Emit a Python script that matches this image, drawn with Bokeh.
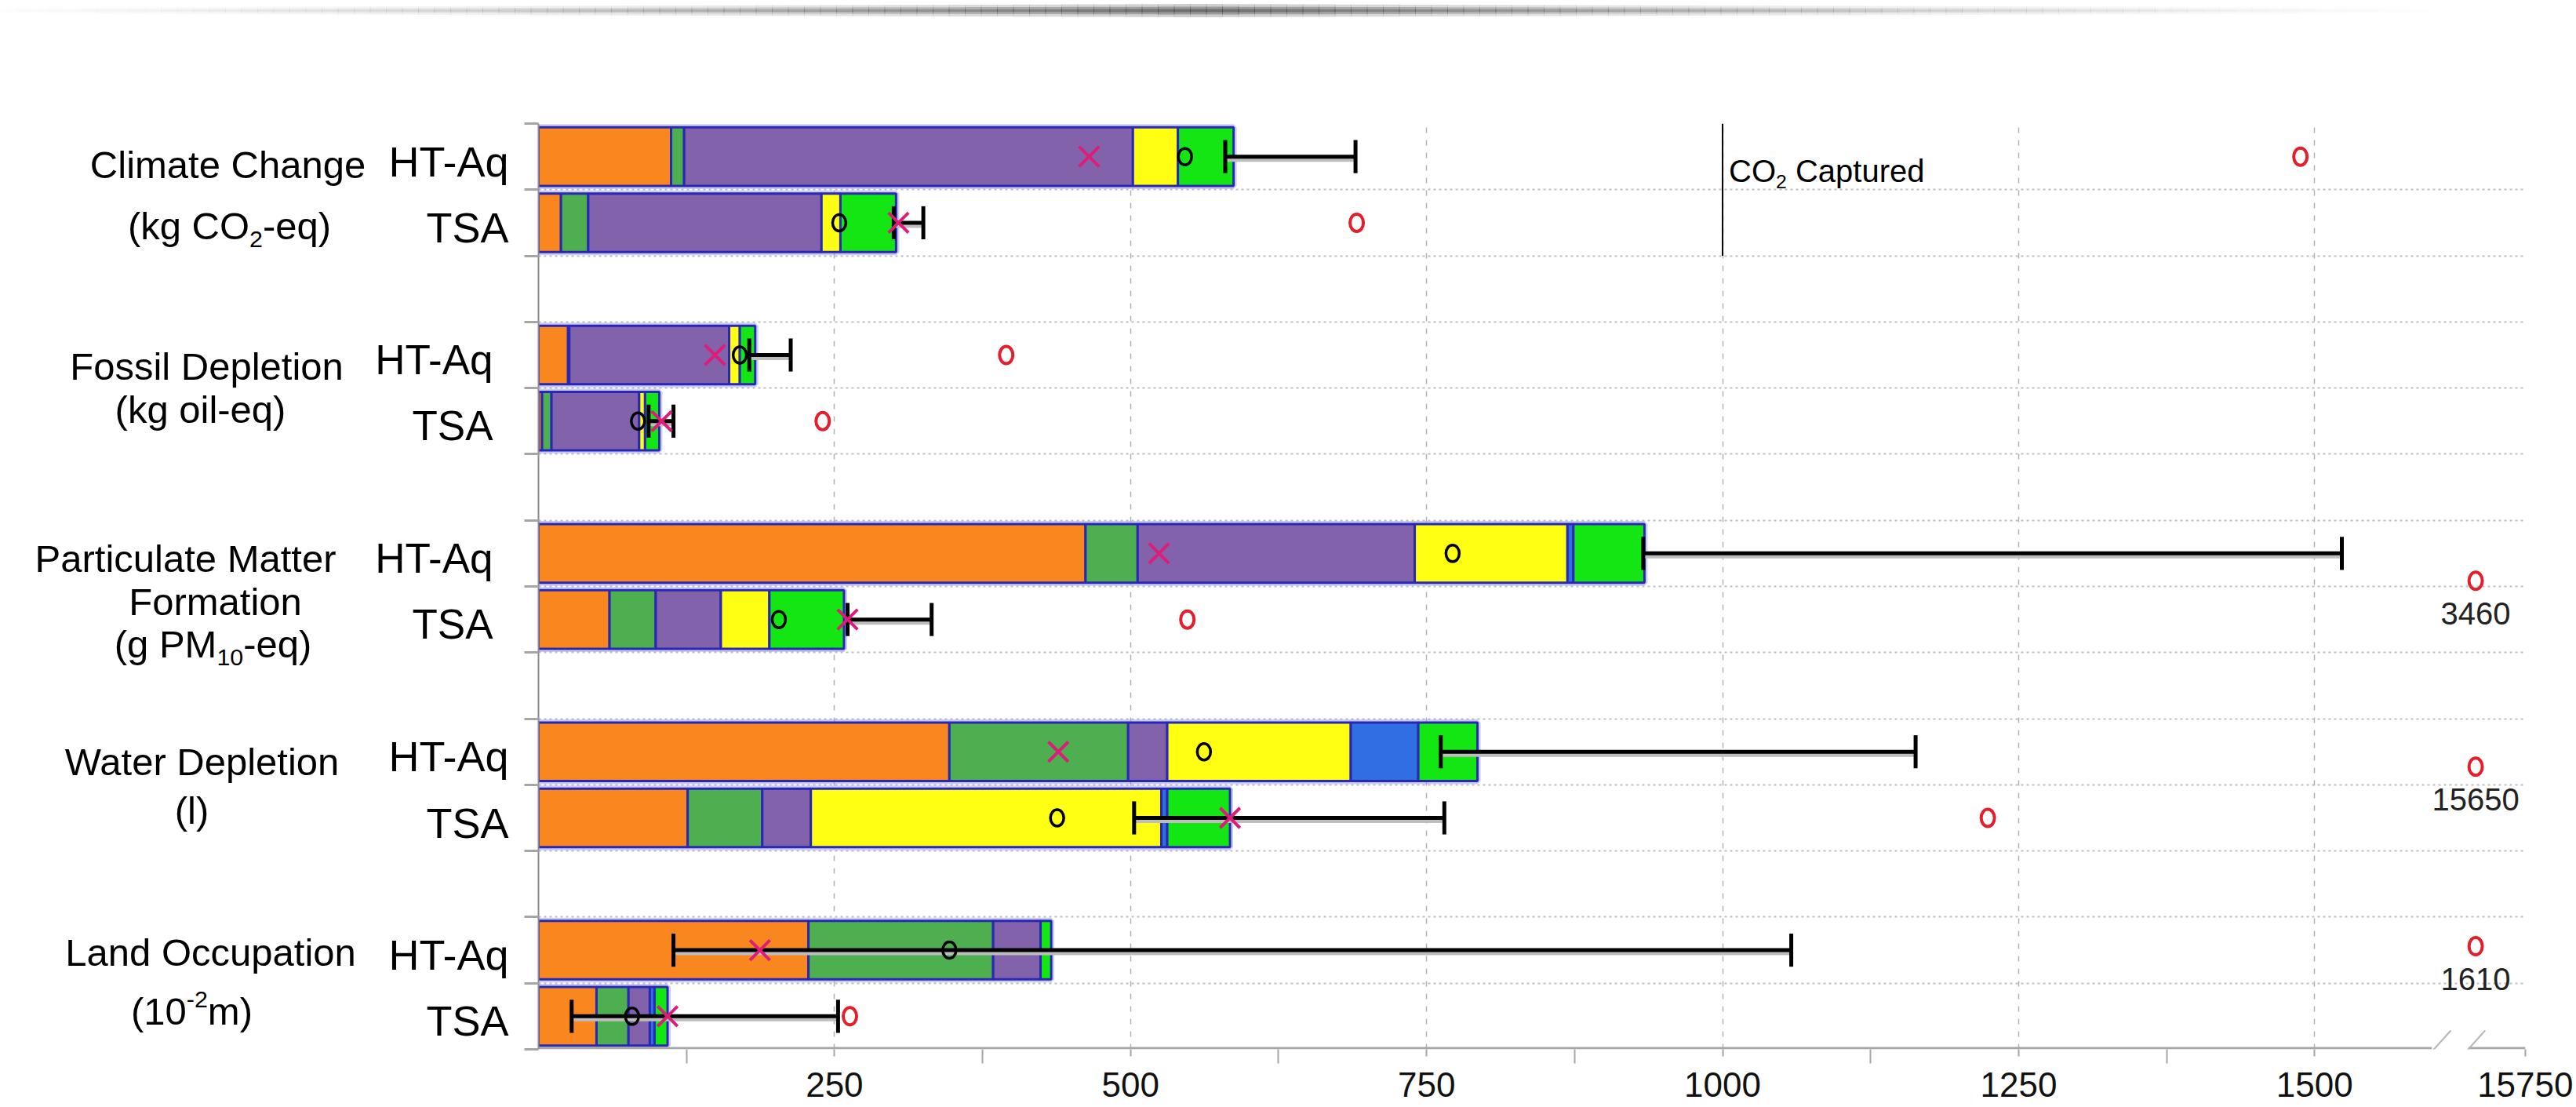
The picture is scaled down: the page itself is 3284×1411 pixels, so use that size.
from bokeh.plotting import figure
from bokeh.models import Range1d, FixedTicker, Label, ColumnDataSource
from bokeh.layouts import column, row
from bokeh.core.properties import value
from bokeh.embed import file_html
from bokeh.resources import INLINE

# ---------------- data ----------------
categories = ["Climate Change", "Fossil Depletion", "Particulate Matter Formation",
              "Water Depletion", "Land Occupation"]
systems = ["HT-Aq", "TSA"]

# stacked contributions per bar, bar order: (cat0 HT-Aq, cat0 TSA, cat1 HT-Aq, ...)
seg_orange = [112, 19, 25, 3, 462, 60, 347, 126, 228, 49]
seg_green = [11, 23, 1, 8, 44, 39, 151, 63, 156, 27]
seg_purple = [379, 197, 135, 74, 234, 55, 33, 41, 40, 18]
seg_yellow = [38, 16, 9, 5, 129, 41, 155, 296, 0, 0]
seg_blue = [0, 0, 0, 0, 5, 0, 57, 5, 0, 4]
seg_lime = [47, 47, 13, 12, 60, 63, 50, 53, 9, 11]

mean_x = [465, 304, 149, 104, 524, 261, 439, 584, 187, 109]
median_o = [546, 254, 170, 84, 772, 203, 562, 438, 347, 79]
err_low = [580, 300, 178, 93, 933, 261, 762, 503, 114, 28]
err_high = [690, 325, 213, 114, 1523, 332, 1163, 765, 1058, 253]
outlier = [1488, 691, 395, 240, 3460, 548, 15650, 1224, 1610, 263]

x_tick_values = [250, 500, 750, 1000, 1250, 1500]
x_tick_labels = ["250", "500", "750", "1000", "1250", "1500"]
axis_end_label = "15750"
co2_captured_value = 1000

cat_lines = [
    [[("Climate Change", "n")], [("(kg CO", "n"), ("2", "sub"), ("-eq)", "n")]],
    [[("Fossil Depletion", "n")], [("(kg oil-eq)", "n")]],
    [[("Particulate Matter", "n")], [("Formation", "n")], [("(g PM", "n"), ("10", "sub"), ("-eq)", "n")]],
    [[("Water Depletion", "n")], [("(l)", "n")]],
    [[("Land Occupation", "n")], [("(10", "n"), ("-2", "sup"), ("m)", "n")]],
]

# ---------------- layout / style ----------------
TOTAL_W = 3280
STRIP_H = 38
MAIN_H = 1370
LW = 656                      # width of the left label panel
B_LEFT_MAIN, B_TOP, B_BOTTOM = 30, 119, 71
AXIS_END = 1678               # display position of the broken-axis end
AXIS_BREAK = 1600             # values above this are drawn past the break
OFFSCALE_POS = 1636
N_SLOTS = 14
MAIN_W = TOTAL_W - LW
FRAME_W = 2533
B_RIGHT = MAIN_W - B_LEFT_MAIN - FRAME_W
PXY = (MAIN_H - B_TOP - B_BOTTOM) / N_SLOTS
BAR_H = 0.885
CAP = 0.25
FONT = "Liberation Sans"
TEXT_DY = 6                   # px, svg middle-baseline correction (down)

colors = ["#FA8620", "#4DAF4F", "#8262AA", "#FFFF14", "#2F6FE3", "#14E614"]
OUTLINE = "#2828B4"
PINK = "#DC1E78"
RED = "#E31E2D"
GRID = "#B4B4B4"
AXIS_GRAY = "#A6A6A6"

# per-line label layout: (page x centre, px offset from group centre)
cat_line_layout = [[(290, -38), (292, 40)], [(263, -34), (255, 21)],
                   [(236, -42), (274, 13), (271, 67)], [(258, -35), (244, 27)],
                   [(268, -45), (244, 30)]]
sys_label_right = [648, 628, 628, 648, 648]
sys_label_size = [54, 53, 53, 54, 54]
offscale_dy = {4: 35, 6: 19, 8: -5}

AW = {" ": 278, "(": 333, ")": 333, "-": 333, "C": 722, "O": 778, "P": 667, "M": 833,
      "k": 500, "g": 556, "e": 556, "q": 556, "m": 833, "a": 556, "p": 556, "t": 278,
      "u": 556, "r": 333, "d": 556, "l": 222, "o": 556, "i": 222, "F": 611, "n": 556,
      "s": 500, "W": 944, "L": 556, "c": 500, "D": 722, "h": 556, "H": 722, "T": 611,
      "A": 667, "S": 667}
SUBR = 0.62


def tw(s, size):
    return sum(AW.get(c, 556) for c in s) / 1000.0 * size


def rich_pieces(pieces, x_px, size, anchor="center"):
    """Return (x_px, dy_px, text, fontsize) for each piece of a sub/superscripted text."""
    sizes = [size * SUBR if k != "n" else size for _, k in pieces]
    widths = [tw(t, fs) for (t, _), fs in zip(pieces, sizes)]
    total = sum(widths)
    x = x_px - total / 2 if anchor == "center" else x_px
    out = []
    for (t, k), fs, w in zip(pieces, sizes, widths):
        lead = len(t) - len(t.lstrip(" "))
        dy = {"n": 0.0, "sub": 0.35 * size, "sup": -0.32 * size}[k]
        out.append((x + tw(" " * lead, fs), dy, t.lstrip(" "), fs))
        x += w
    return out


# ---------------- top shadow strip (decoration) ----------------
strip = figure(width=TOTAL_W, height=STRIP_H, x_range=Range1d(0, TOTAL_W),
               y_range=Range1d(0, STRIP_H), output_backend="svg",
               toolbar_location=None, min_border=0,
               x_axis_location=None, y_axis_location=None)
strip.grid.visible = False
strip.outline_line_color = None
nslice = 160
sw = TOTAL_W / nslice
cx = 1530.0
sx, sy, sh, sa, swd = [], [], [], [], []
for i in range(nslice):
    xm = (i + 0.5) * sw
    prof = max(0.0, 1 - abs(xm - cx) / 1640.0) ** 1.6
    for hh, aa in ((17, 0.22), (10, 0.30), (4, 0.35)):
        sx.append(xm); sy.append(STRIP_H - 13); sh.append(hh * (0.55 + 0.45 * prof))
        sa.append(aa * prof); swd.append(sw + 0.6)
strip.rect(x=sx, y=sy, width=swd, height=sh, fill_color="#202020", fill_alpha=sa,
           line_color=None)

# ---------------- main figure ----------------
p = figure(width=MAIN_W, height=MAIN_H, x_range=Range1d(0, AXIS_END),
           y_range=Range1d(0, N_SLOTS), output_backend="svg", toolbar_location=None,
           min_border_left=B_LEFT_MAIN, min_border_right=B_RIGHT,
           min_border_top=B_TOP, min_border_bottom=B_BOTTOM)
p.outline_line_color = None

ng = len(categories)
bounds = sorted({N_SLOTS - 3 * g - k for g in range(ng) for k in range(3)})

xt = FixedTicker(ticks=x_tick_values + [AXIS_END],
                 minor_ticks=[125 + 250 * k for k in range(6)])
p.xaxis.ticker = xt
ov = {v: l for v, l in zip(x_tick_values, x_tick_labels)}
ov[AXIS_END] = axis_end_label
p.xaxis.major_label_overrides = ov
p.xaxis.axis_line_color = None          # drawn below with the break gap
p.xaxis.major_tick_line_color = AXIS_GRAY
p.xaxis.major_tick_line_width = 2
p.xaxis.major_tick_out = 9
p.xaxis.major_tick_in = 0
p.xaxis.minor_tick_line_color = AXIS_GRAY
p.xaxis.minor_tick_line_width = 2
p.xaxis.minor_tick_out = 18
p.xaxis.minor_tick_in = 0
p.xaxis.major_label_standoff = 11
p.xaxis.major_label_text_font = FONT
p.xaxis.major_label_text_font_size = "44px"
p.xaxis.major_label_text_color = "#111111"

p.yaxis.ticker = FixedTicker(ticks=bounds)
p.yaxis.major_label_overrides = {b: "" for b in bounds}
p.yaxis.major_label_text_font_size = "1px"
p.yaxis.major_label_text_color = None
p.yaxis.major_label_standoff = 0
p.yaxis.axis_line_color = "#8C8C8C"
p.yaxis.axis_line_width = 2
p.yaxis.major_tick_line_color = AXIS_GRAY
p.yaxis.major_tick_line_width = 3
p.yaxis.major_tick_out = 18
p.yaxis.major_tick_in = 0
p.yaxis.minor_tick_line_color = None

p.xgrid.ticker = FixedTicker(ticks=x_tick_values + [AXIS_END])
p.xgrid.grid_line_color = GRID
p.xgrid.grid_line_width = 1.5
p.xgrid.grid_line_dash = "7 9"
p.ygrid.ticker = FixedTicker(ticks=[b for b in bounds if 0 < b < N_SLOTS])
p.ygrid.grid_line_color = "#BEBEBE"
p.ygrid.grid_line_width = 2
p.ygrid.grid_line_dash = "3 4"

series = [seg_orange, seg_green, seg_purple, seg_yellow, seg_blue, seg_lime]
nb = len(seg_orange)
bar_y = [N_SLOTS - 0.5 - 3 * (b // 2) - (b % 2) for b in range(nb)]
totals = [sum(s[b] for s in series) for b in range(nb)]

ys, lefts, rights, fills = [], [], [], []
for b in range(nb):
    acc = 0
    for s, c in zip(series, colors):
        v = s[b]
        if v > 0:
            ys.append(bar_y[b]); lefts.append(acc); rights.append(acc + v); fills.append(c)
        acc += v
src = ColumnDataSource(dict(y=ys, left=lefts, right=rights, color=fills))

p.hbar(y=bar_y, left=0, right=totals, height=BAR_H, fill_color=None,
       line_color="#8C8CF5", line_width=8, line_alpha=0.45)
p.hbar(y="y", left="left", right="right", height=BAR_H, fill_color="color",
       line_color=OUTLINE, line_width=3, source=src)

# bottom axis line with the break, and break marks
ya = 1.5 / PXY
p.segment(x0=[0, 1630], y0=ya, x1=[1599, AXIS_END], y1=ya, line_color=AXIS_GRAY, line_width=3)
p.segment(x0=[1587, 1616], y0=-23 / PXY, x1=[1615, 1644], y1=24 / PXY,
          line_color="#B5B5B5", line_width=2)

# CO2 captured reference line (first category)
p.segment(x0=co2_captured_value, y0=N_SLOTS - 2, x1=co2_captured_value, y1=N_SLOTS,
          line_color="black", line_width=2)
for xo, dy, t, fs in rich_pieces([("CO", "n"), ("2", "sub"), (" Captured", "n")], 8, 40, "left"):
    p.add_layout(Label(x=co2_captured_value, y=bar_y[0] - (12 + dy + TEXT_DY) / PXY,
                       x_offset=xo, text=t, text_align="left", text_baseline="middle",
                       text_font=FONT, text_font_size=f"{fs:.1f}px", text_color="black"))

# error bars
shd = 4 / PXY
p.segment(x0=err_low, y0=[y - shd for y in bar_y], x1=err_high, y1=[y - shd for y in bar_y],
          line_color="#BDBDBD", line_width=5)
p.segment(x0=err_low, y0=bar_y, x1=err_high, y1=bar_y, line_color="black", line_width=5)
p.segment(x0=err_low, y0=[y - CAP for y in bar_y], x1=err_low, y1=[y + CAP for y in bar_y],
          line_color="black", line_width=5)
p.segment(x0=err_high, y0=[y - CAP for y in bar_y], x1=err_high, y1=[y + CAP for y in bar_y],
          line_color="black", line_width=5)

# medians (black o) and means (pink x)
p.ellipse(x=median_o, y=bar_y, width=17, height=21, width_units="screen",
          height_units="screen", fill_color=None, line_color="black", line_width=3.5)
p.scatter(x=mean_x, y=bar_y, marker="x", size=36, line_color=PINK, line_width=4)

# red outliers (off-scale ones drawn past the axis break, with their value)
ox, oy = [], []
for b in range(nb):
    v = outlier[b]
    if v > AXIS_BREAK:
        yy = bar_y[b] - offscale_dy.get(b, 0) / PXY
        ox.append(OFFSCALE_POS); oy.append(yy)
        p.add_layout(Label(x=OFFSCALE_POS, y=yy - (36 + TEXT_DY) / PXY, text=str(v),
                           text_align="center", text_baseline="middle", text_font=FONT,
                           text_font_size="40px", text_color="#222222"))
    else:
        ox.append(v); oy.append(bar_y[b])
p.ellipse(x=ox, y=oy, width=17, height=22, width_units="screen", height_units="screen",
          fill_color=None, line_color=RED, line_width=4)

# ---------------- left label panel (shares the y scale) ----------------
lab = figure(width=LW, height=MAIN_H, x_range=Range1d(0, LW), y_range=p.y_range,
             output_backend="svg", toolbar_location=None,
             x_axis_location=None, y_axis_location=None,
             min_border_left=0, min_border_right=0,
             min_border_top=B_TOP, min_border_bottom=B_BOTTOM)
lab.grid.visible = False
lab.outline_line_color = None

tx, ty, tt, tf = [], [], [], []
for g in range(ng):
    gc = N_SLOTS - 1 - 3 * g
    for pieces, (xc, dy0) in zip(cat_lines[g], cat_line_layout[g]):
        for xo, dy, t, fs in rich_pieces(pieces, xc, 49, "center"):
            tx.append(xo); ty.append(gc - (dy0 + dy + TEXT_DY) / PXY)
            tt.append(t); tf.append(f"{fs:.1f}px")
lab.text(x="x", y="y", text="text", text_font_size="size",
         source=ColumnDataSource(dict(x=tx, y=ty, text=tt, size=tf)),
         text_font=value(FONT), text_align="left", text_baseline="middle",
         text_color="black")

rx, ry, rt, rf = [], [], [], []
for g in range(ng):
    for s, name in enumerate(systems):
        rx.append(sys_label_right[g])
        ry.append(bar_y[2 * g + s] - TEXT_DY / PXY)
        rt.append(name); rf.append(f"{sys_label_size[g]}px")
lab.text(x="x", y="y", text="text", text_font_size="size",
         source=ColumnDataSource(dict(x=rx, y=ry, text=rt, size=rf)),
         text_font=value(FONT), text_align="right", text_baseline="middle",
         text_color="black")

layout = column(strip, row(lab, p))
open("out.html", "w").write(file_html(layout, INLINE))
